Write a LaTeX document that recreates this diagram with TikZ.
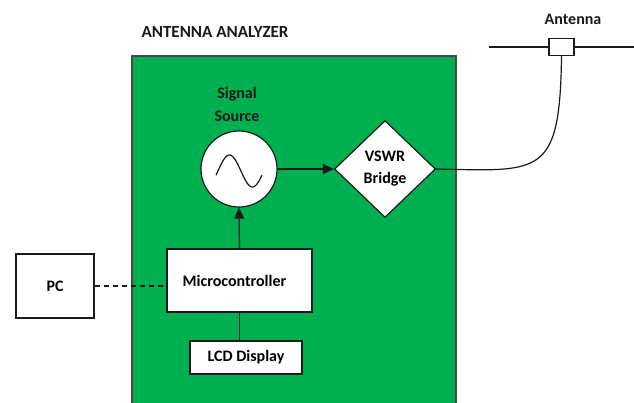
\documentclass[tikz,border=0pt]{standalone}
\usepackage{fontspec}
\setmainfont{Carlito}
\usetikzlibrary{arrows.meta,positioning,shapes.geometric}
\definecolor{boardgreen}{HTML}{00B050}
\definecolor{ink}{HTML}{1A1A1A}
\tikzset{
  blockbox/.style={draw=ink,fill=white,line width=1.2pt,
                   align=center,font=\bfseries\fontsize{16}{19}\selectfont,inner sep=2pt},
  labeltext/.style={align=center,font=\bfseries\fontsize{16}{23}\selectfont,text=ink},
  sigarr/.style={-{Triangle[length=11pt,width=10pt]},line width=1.2pt,draw=ink},
  wire/.style={line width=1.2pt,draw=ink}
}

\begin{document}
\begin{tikzpicture}[x=1pt,y=-1pt]
  \useasboundingbox (0,0) rectangle (634,402);
  \clip (0,0) rectangle (634,402);
  % ---- the analyzer board ----
  \draw[fill=boardgreen,draw=ink!80,line width=1.4pt] (132,56) rectangle (456,420);
  \node[labeltext,anchor=west,font=\bfseries\fontsize{17}{20}\selectfont] (title) at (138,32) {ANTENNA ANALYZER};
  % ---- blocks on the board ----
  \node[blockbox,circle,minimum size=76pt] (src) at (239,169) {};
  \draw[line width=1.2pt,ink] plot[domain=-15:345,samples=60,smooth]
    ({216+(\x+15)/360*46},{171-16*sin(\x)});
  \node[labeltext] (srclabel) at (237,104) {Signal\\Source};
  \node[blockbox,diamond,minimum width=101pt,minimum height=97pt,inner sep=0pt] (vswr) at (385,169) {VSWR\\[3pt]Bridge};
  \node[blockbox,minimum width=145pt,minimum height=63pt] (micro) at (239.5,280.5) {Microcontroller\hspace*{10pt}};
  \node[blockbox,minimum width=112pt,minimum height=33pt] (lcd) at (246,357.5) {LCD Display};
  % ---- outside the board ----
  \node[blockbox,minimum width=78pt,minimum height=64pt] (pc) at (55,286) {PC};
  \node[blockbox,minimum width=25pt,minimum height=17pt,inner sep=0pt] (ant) at (561.5,47) {};
  \node[labeltext] (antlabel) at (573,19) {Antenna};
  \coordinate (dipL) at (489,47);
  \coordinate (dipR) at (640,47);
  % ---- connectors ----
  \draw[sigarr] (src.east) -- (vswr.west);
  \draw[sigarr] (micro.north) -- (src.south);
  \draw[wire] (micro.south) -- (micro.south |- lcd.north);
  \draw[wire,dash pattern=on 5pt off 4pt] (pc.east) -- (pc.east -| micro.west);
  \draw[wire] (dipL) -- (ant.west);
  \draw[wire] (ant.east) -- (dipR);
  \draw[wire] (vswr.east) .. controls (540,171) and (560,178) .. (ant.south);
\end{tikzpicture}
\end{document}
